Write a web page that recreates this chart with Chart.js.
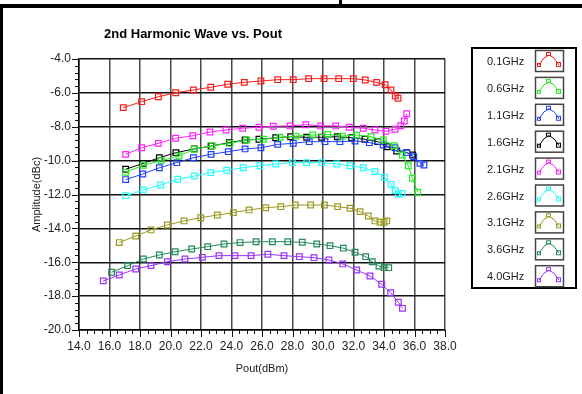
<!DOCTYPE html>
<html>
<head>
<meta charset="utf-8">
<script src="https://cdn.jsdelivr.net/npm/chart.js@4.4.1/dist/chart.umd.min.js"></script>
<style>
html,body{margin:0;padding:0;background:#fff;}
canvas{display:block;}
</style>
</head>
<body>
<canvas id="c" width="582" height="394"></canvas>
<script>
// ---- text ----
const TITLE = "2nd Harmonic Wave vs. Pout";
const X_TITLE = "Pout(dBm)";
const Y_TITLE = "Amplitude(dBc)";

// ---- series names (legend) ----
const seriesNames = ["0.1GHz","0.6GHz","1.1GHz","1.6GHz","2.1GHz","2.6GHz","3.1GHz","3.6GHz","4.0GHz"];
const seriesColors = ["#ff1a1a","#22ee22","#2040ff","#000000","#ff22ff","#22ffff","#9a9a22","#238a57","#9933ff"];

// ---- axis ticks ----
const xMin = 14, xMax = 38, xStep = 2, xMinorStep = 0.5;
const yMin = -20, yMax = -4, yStep = 2, yMinorStep = 0.4;

// ---- data: Pout (dBm) and amplitude (dBc) per frequency ----
const pout_01 = [16.90,18.11,19.20,20.34,21.50,22.64,23.75,24.84,25.93,27.03,28.05,29.06,30.07,31.03,31.99,32.77,33.52,34.07,34.46,34.74,34.92];
const amp_01  = [-6.87,-6.52,-6.23,-5.99,-5.83,-5.67,-5.49,-5.38,-5.30,-5.22,-5.22,-5.16,-5.16,-5.16,-5.16,-5.24,-5.38,-5.52,-5.83,-6.18,-6.32];

const pout_06 = [17.06,18.22,19.38,20.56,21.56,22.74,23.90,25.00,26.09,27.18,28.23,29.32,30.31,31.27,32.21,33.15,33.95,34.66,35.20,35.59,35.86,36.21];
const amp_06  = [-10.69,-10.27,-10.00,-9.73,-9.33,-9.12,-8.98,-8.78,-8.74,-8.62,-8.55,-8.49,-8.45,-8.55,-8.49,-8.59,-8.78,-9.12,-9.67,-10.30,-11.04,-11.87];

const pout_11 = [17.06,18.18,19.27,20.41,21.50,22.66,23.79,24.89,25.93,27.03,28.05,29.10,30.13,31.11,32.10,33.04,33.95,34.72,35.49,35.95,36.36,36.62];
const amp_11  = [-11.12,-10.79,-10.42,-10.12,-9.83,-9.63,-9.47,-9.31,-9.24,-9.04,-8.98,-8.88,-8.88,-8.88,-8.84,-8.94,-9.08,-9.24,-9.53,-9.77,-10.16,-10.26];

const pout_16 = [17.06,18.22,19.27,20.36,21.56,22.66,23.86,24.89,25.80,26.90,27.88,28.93,29.91,30.94,31.88,32.75,33.59,34.22,34.83,35.49,35.88];
const amp_16  = [-10.51,-10.16,-9.83,-9.53,-9.31,-9.14,-8.94,-8.78,-8.74,-8.65,-8.59,-8.62,-8.62,-8.59,-8.65,-8.74,-8.88,-9.18,-9.43,-9.53,-9.67];

const pout_21 = [17.06,18.11,19.20,20.34,21.46,22.59,23.64,24.73,25.80,26.74,27.84,28.87,29.85,30.83,31.72,32.64,33.41,34.13,34.72,35.10,35.33,35.49];
const amp_21  = [-9.63,-9.24,-8.98,-8.68,-8.53,-8.31,-8.19,-8.09,-8.03,-7.97,-7.95,-7.88,-7.95,-7.95,-8.03,-8.09,-8.19,-8.27,-8.15,-7.94,-7.66,-7.23];

const pout_26 = [17.08,18.22,19.36,20.47,21.56,22.64,23.69,24.77,25.87,26.90,27.99,28.93,29.92,30.90,31.77,32.64,33.41,34.02,34.46,34.74,34.94,35.20];
const amp_26  = [-12.07,-11.73,-11.44,-11.10,-10.91,-10.71,-10.57,-10.42,-10.30,-10.20,-10.12,-10.12,-10.12,-10.20,-10.30,-10.42,-10.65,-10.98,-11.40,-11.77,-11.97,-11.93];

const pout_31 = [16.64,17.72,18.72,19.79,20.89,21.98,23.07,24.12,25.15,26.24,27.23,28.18,29.19,30.09,30.96,31.77,32.43,32.97,33.41,33.74,34.00,34.18];
const amp_31  = [-14.84,-14.45,-14.09,-13.80,-13.56,-13.37,-13.21,-13.07,-12.91,-12.78,-12.72,-12.62,-12.62,-12.62,-12.72,-12.81,-13.01,-13.27,-13.56,-13.64,-13.64,-13.56];

const pout_36 = [16.14,17.19,18.22,19.27,20.30,21.39,22.44,23.51,24.56,25.61,26.68,27.69,28.64,29.59,30.46,31.33,32.10,32.80,33.23,33.67,34.00,34.31];
const amp_36  = [-16.59,-16.20,-15.81,-15.57,-15.38,-15.22,-15.08,-14.92,-14.84,-14.79,-14.79,-14.79,-14.82,-14.92,-15.02,-15.17,-15.41,-15.67,-15.97,-16.22,-16.32,-16.32];

const pout_40 = [15.59,16.64,17.72,18.72,19.79,20.95,22.09,23.18,24.23,25.28,26.38,27.44,28.45,29.41,30.39,31.29,32.21,33.08,33.85,34.44,34.94,35.21];
const amp_40  = [-17.10,-16.75,-16.40,-16.20,-15.97,-15.81,-15.71,-15.61,-15.61,-15.61,-15.53,-15.61,-15.67,-15.73,-15.87,-16.10,-16.46,-16.81,-17.30,-17.80,-18.36,-18.72];

const seriesX = [pout_01,pout_06,pout_11,pout_16,pout_21,pout_26,pout_31,pout_36,pout_40];
const seriesY = [amp_01,amp_06,amp_11,amp_16,amp_21,amp_26,amp_31,amp_36,amp_40];

// ---- build datasets ----
const datasets = seriesNames.map((name, i) => ({
  label: name,
  data: seriesX[i].map((x, j) => ({x: x, y: seriesY[i][j]})),
  borderColor: seriesColors[i],
  backgroundColor: seriesColors[i],
  borderWidth: 1,
  pointStyle: 'rect',
  pointRadius: 4,
  pointBorderWidth: 1.2,
  pointBorderColor: seriesColors[i],
  pointBackgroundColor: 'rgba(255,255,255,0)',
  tension: 0,
  fill: false
}));

const FONT = '"Liberation Sans", Arial, sans-serif';

const decorPlugin = {
  id: 'decor',
  afterDraw(chart) {
    const ctx = chart.ctx;
    const xs = chart.scales.x, ys = chart.scales.y;
    const area = chart.chartArea;
    ctx.save();
    // outer frame (left & top edges)
    ctx.fillStyle = '#000';
    ctx.fillRect(0, 4, 582, 4);
    ctx.fillRect(0, 4, 3, 390);
    ctx.fillRect(339, 0, 3, 4);

    // title
    ctx.fillStyle = '#000';
    ctx.font = 'bold 13px ' + FONT;
    ctx.textAlign = 'center';
    ctx.textBaseline = 'middle';
    ctx.fillText(TITLE, 193, 34);

    // tick marks (major + minor)
    ctx.strokeStyle = '#111';
    ctx.lineWidth = 1;
    ctx.beginPath();
    const nx = Math.round((xMax - xMin) / xMinorStep);
    for (let k = 0; k <= nx; k++) {
      const v = xMin + k * xMinorStep;
      const px = Math.round(xs.getPixelForValue(v)) + 0.5;
      const major = (k % Math.round(xStep / xMinorStep)) === 0;
      ctx.moveTo(px, area.bottom);
      ctx.lineTo(px, area.bottom + (major ? 7 : 4));
    }
    const ny = Math.round((yMax - yMin) / yMinorStep);
    for (let k = 0; k <= ny; k++) {
      const v = yMin + k * yMinorStep;
      const py = Math.round(ys.getPixelForValue(v)) + 0.5;
      const major = (k % 5) === 0;
      ctx.moveTo(area.left, py);
      ctx.lineTo(area.left - (major ? 7 : 4), py);
    }
    ctx.stroke();

    // legend box
    const lx = 472, ly = 48, lw = 104, lh = 240;
    ctx.strokeStyle = '#000';
    ctx.lineWidth = 2;
    ctx.strokeRect(lx, ly, lw, lh);
    const rowH = 26.9;
    chart.data.datasets.forEach((ds, i) => {
      const by = 50 + i * rowH;
      const bx = 535, bw = 28, bh = 21;
      // text
      ctx.fillStyle = '#222';
      ctx.font = '11px ' + FONT;
      ctx.textAlign = 'left';
      ctx.textBaseline = 'middle';
      ctx.fillText(ds.label, 487, by + bh / 2 + 1.5);
      // symbol box
      ctx.strokeStyle = '#444';
      ctx.lineWidth = 1.5;
      ctx.strokeRect(bx + 0.5, by + 0.5, bw, bh);
      // icon
      const c = ds.borderColor;
      ctx.strokeStyle = c;
      ctx.lineWidth = 1;
      ctx.beginPath();
      ctx.moveTo(bx + 4, by + 15);
      ctx.lineTo(bx + 9, by + 8);
      ctx.lineTo(bx + 14, by + 5);
      ctx.lineTo(bx + 19, by + 8);
      ctx.lineTo(bx + 24, by + 15);
      ctx.stroke();
      ctx.lineWidth = 1;
      ctx.strokeRect(bx + 2.5, by + 13.5, 3, 3);
      ctx.strokeRect(bx + 11.5, by + 2.5, 4, 3);
      ctx.strokeRect(bx + 21.5, by + 12.5, 4, 4);
    });
    ctx.restore();
  }
};

new Chart(document.getElementById('c'), {
  type: 'line',
  data: { datasets: datasets },
  options: {
    responsive: false,
    animation: false,
    devicePixelRatio: 1,
    layout: { padding: { left: 0, top: 59, right: 137, bottom: 0 } },
    plugins: {
      legend: { display: false },
      tooltip: { enabled: false },
      title: { display: false }
    },
    scales: {
      x: {
        type: 'linear',
        min: xMin, max: xMax,
        ticks: {
          stepSize: xStep,
          autoSkip: false,
          maxRotation: 0,
          padding: 9,
          color: '#222',
          font: { family: FONT, size: 12 },
          callback: v => Number(v).toFixed(1)
        },
        grid: { color: '#4a4a4a', lineWidth: 1.5, drawTicks: false },
        border: { color: '#000', width: 1.5 },
        title: {
          display: true, text: X_TITLE, color: '#222',
          font: { family: FONT, size: 11 },
          padding: { top: 0, bottom: 18 }
        },
        afterFit: s => { s.height = 64; }
      },
      y: {
        type: 'linear',
        min: yMin, max: yMax,
        ticks: {
          stepSize: yStep,
          padding: 8,
          color: '#222',
          font: { family: FONT, size: 12 },
          callback: v => Number(v).toFixed(1)
        },
        grid: { color: '#111', lineWidth: 1.5, drawTicks: false },
        border: { color: '#000', width: 1.5 },
        title: {
          display: true, text: Y_TITLE, color: '#222',
          font: { family: FONT, size: 11 },
          padding: { top: 30, bottom: 0 }
        },
        afterFit: s => { s.width = 79; }
      }
    }
  },
  plugins: [decorPlugin]
});
</script>
</body>
</html>
